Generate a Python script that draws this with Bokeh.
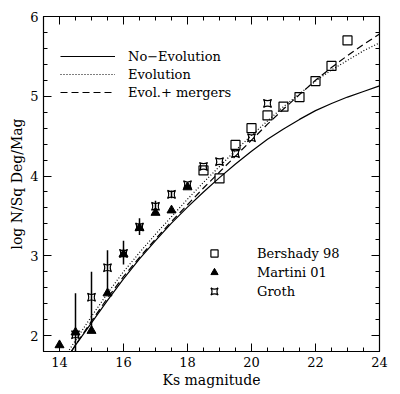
from bokeh.plotting import figure
from bokeh.models import (LinearAxis, SingleIntervalTicker, Range1d, Legend, LegendItem,
                          CustomLabelingPolicy)
from bokeh.embed import file_html
from bokeh.resources import INLINE

# ---- data ----
model_x = [14.0, 14.5, 15.0, 15.5, 16.0, 16.5, 17.0, 17.5, 18.0, 18.5, 19.0,
           19.5, 20.0, 20.5, 21.0, 21.5, 22.0, 22.5, 23.0, 23.5, 24.0]
no_evolution = [1.58, 1.88, 2.16, 2.44, 2.71, 2.96, 3.19, 3.41, 3.61, 3.80, 3.98,
                4.15, 4.31, 4.46, 4.59, 4.71, 4.82, 4.91, 4.99, 5.06, 5.13]
evolution = [1.63, 1.94, 2.24, 2.53, 2.80, 3.04, 3.27, 3.49, 3.71, 3.92, 4.12,
             4.32, 4.51, 4.69, 4.87, 5.03, 5.19, 5.33, 5.45, 5.57, 5.67]
evol_mergers = [1.57, 1.88, 2.18, 2.47, 2.74, 2.98, 3.21, 3.43, 3.64, 3.85, 4.05,
                4.25, 4.45, 4.65, 4.84, 5.02, 5.20, 5.36, 5.51, 5.65, 5.78]

bershady_x = [18.5, 19.0, 19.5, 20.0, 20.5, 21.0, 21.5, 22.0, 22.5, 23.0]
bershady_y = [4.07, 3.97, 4.39, 4.60, 4.76, 4.87, 4.99, 5.19, 5.38, 5.70]

martini_x = [14.0, 14.5, 15.0, 15.5, 16.0, 16.5, 17.0, 17.5, 18.0]
martini_y = [1.88, 2.04, 2.06, 2.53, 3.02, 3.35, 3.54, 3.57, 3.86]

groth_x = [14.5, 15.0, 15.5, 16.0, 16.5, 17.0, 17.5, 18.0, 18.5, 19.0, 19.5, 20.0, 20.5]
groth_y = [2.01, 2.48, 2.85, 3.03, 3.36, 3.62, 3.77, 3.89, 4.12, 4.18, 4.28, 4.48, 4.91]
groth_lo = [1.50, 2.10, 2.58, 2.89, 3.26, 3.55, 3.72, 3.86, 4.12, 4.18, 4.28, 4.48, 4.91]
groth_hi = [2.53, 2.80, 3.07, 3.19, 3.47, 3.69, 3.82, 3.92, 4.12, 4.18, 4.28, 4.48, 4.91]

x_label = "Ks magnitude"
y_label = "log N/Sq Deg/Mag"
line_labels = ["No\u2212Evolution", "Evolution", "Evol.+ mergers"]
point_labels = ["Bershady 98", "Martini 01", "Groth"]

FONT = "DejaVu Serif"

p = figure(frame_width=336, frame_height=335, output_backend="svg", toolbar_location=None,
           x_range=Range1d(13.5, 24), y_range=Range1d(1.8, 6),
           x_axis_type=None, y_axis_type=None,
           min_border_left=43, min_border_top=16, min_border_right=13, min_border_bottom=35)
p.background_fill_color = "white"
p.border_fill_color = "white"
p.outline_line_color = "black"
p.outline_line_width = 1.2
p.xgrid.visible = False
p.ygrid.visible = False

no_labels = CustomLabelingPolicy(code="return new Set()")

def make_axis(is_x, labelled):
    ticker = SingleIntervalTicker(interval=2, num_minor_ticks=4) if is_x else SingleIntervalTicker(interval=1, num_minor_ticks=5)
    ax = LinearAxis(ticker=ticker)
    ax.major_tick_in = 8
    ax.major_tick_out = 0
    ax.minor_tick_in = 4
    ax.minor_tick_out = 0
    ax.axis_line_color = None
    ax.major_tick_line_color = "black"
    ax.minor_tick_line_color = "black"
    if labelled:
        ax.major_label_text_font = FONT
        ax.major_label_text_font_size = "13px"
        ax.major_label_text_color = "black"
        ax.major_label_standoff = 5
        ax.axis_label = x_label if is_x else y_label
        ax.axis_label_text_font = FONT
        ax.axis_label_text_font_size = "14px"
        ax.axis_label_text_font_style = "normal"
        ax.axis_label_text_color = "black"
        ax.axis_label_standoff = 2
    else:
        ax.major_label_policy = no_labels
        ax.major_label_standoff = 0
    return ax

p.add_layout(make_axis(True, True), "below")
p.add_layout(make_axis(False, True), "left")
p.add_layout(make_axis(True, False), "above")
p.add_layout(make_axis(False, False), "right")

r_solid = p.line(model_x, no_evolution, line_color="black", line_width=1.2)
r_dot = p.line(model_x, evolution, line_color="black", line_width=1.2, line_dash="1 2")
r_dash = p.line(model_x, evol_mergers, line_color="black", line_width=1.2, line_dash="7 4")

p.segment(x0=groth_x, y0=groth_lo, x1=groth_x, y1=groth_hi, line_color="black", line_width=1.5)

r_b = p.scatter(bershady_x, bershady_y, marker="square", size=9, fill_color=None,
                line_color="black", line_width=1.2)
r_m = p.scatter(martini_x, martini_y, marker="triangle", size=9, fill_color="black",
                line_color="black")
r_g = p.scatter(groth_x, groth_y, marker="square_pin", size=8, fill_color=None,
                line_color="black", line_width=1.2)

leg1 = Legend(items=[LegendItem(label=line_labels[0], renderers=[r_solid]),
                     LegendItem(label=line_labels[1], renderers=[r_dot]),
                     LegendItem(label=line_labels[2], renderers=[r_dash])],
              location=(17, 250), glyph_width=55, glyph_height=18, label_height=18,
              label_standoff=13, spacing=0, padding=0, margin=0,
              border_line_alpha=0, background_fill_alpha=0,
              label_text_font=FONT, label_text_font_size="13px", label_text_color="black")
leg2 = Legend(items=[LegendItem(label=point_labels[0], renderers=[r_b]),
                     LegendItem(label=point_labels[1], renderers=[r_m]),
                     LegendItem(label=point_labels[2], renderers=[r_g])],
              location=(161, 51), glyph_width=20, glyph_height=18, label_height=18,
              label_standoff=33, spacing=1, padding=0, margin=0,
              border_line_alpha=0, background_fill_alpha=0,
              label_text_font=FONT, label_text_font_size="13px", label_text_color="black")
p.add_layout(leg1, "center")
p.add_layout(leg2, "center")

open("out.html", "w").write(file_html(p, INLINE))
